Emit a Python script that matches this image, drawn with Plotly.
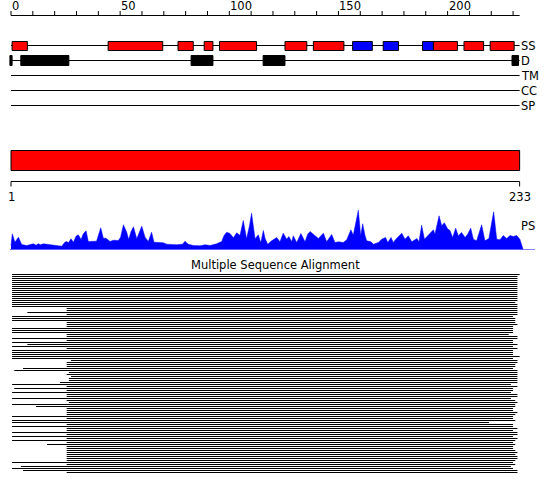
import plotly.graph_objects as go

# ------------------------------------------------------------------ data
seq_len = 233
ruler_ticks = list(range(0, 231, 10))
ruler_labels = [0, 50, 100, 150, 200]

track_names = ["SS", "D", "TM", "CC", "SP"]

# secondary structure: H = helix (red), E = strand (blue)
ss_type = ["H", "H", "H", "H", "H", "H", "H", "E", "E", "E", "H", "H", "H"]
ss_start = [1, 45, 77, 89, 96, 126, 139, 157, 171, 189, 194, 208, 220]
ss_end = [7, 69, 83, 92, 112, 135, 152, 165, 177, 193, 204, 216, 230]

# disorder segments
dis_start = [0, 5, 83, 116, 230]
dis_end = [0, 26, 92, 125, 232]

# domain
domain_start = [1]
domain_end = [233]

# PS profile (residue position, score)
ps_pos = [0, 0.6, 1.8, 3.4, 4.9, 7.2, 10.2, 11.5, 12.5, 13.6,
          14.8, 16.3, 17.9, 20.1, 23.2, 24.7, 25.5, 26.3, 27.5, 28.6,
          29.8, 30.8, 32.1, 33.1, 34.4, 35.4, 39.2, 41.1, 42.3, 43.5,
          45.4, 46.9, 49.2, 50.2, 51.5, 53.0, 53.9, 55.0, 56.1, 57.6,
          58.8, 59.9, 61.4, 62.9, 64.4, 65.5, 69.8, 71.3, 75.9, 78.6,
          79.7, 81.2, 83.5, 86.6, 88.9, 91.2, 94.2, 96.5, 97.6, 98.8,
          100.3, 101.9, 103.4, 104.9, 106.4, 107.9, 109.2, 110.2, 111.8, 113.3,
          114.4, 115.6, 116.4, 117.6, 119.4, 121.7, 123.2, 124.7, 126.3, 127.3,
          128.6, 129.3, 130.9, 132.8, 134.7, 135.9, 137.0, 139.2, 140.8, 143.1,
          144.6, 146.9, 148.4, 150.0, 152.2, 153.8, 155.7, 156.8, 157.9, 159.1,
          160.2, 161.1, 162.2, 162.9, 164.9, 166.0, 168.3, 169.8, 171.6, 172.6,
          174.1, 175.1, 176.6, 179.0, 180.5, 182.0, 183.6, 185.9, 186.9, 188.1,
          189.4, 191.2, 193.5, 194.2, 196.1, 197.3, 198.5, 200.0, 201.1, 202.3,
          203.7, 204.9, 206.4, 208.0, 209.2, 210.6, 211.8, 213.3, 215.6, 217.1,
          218.9, 221.1, 222.5, 224.0, 225.5, 227.1, 228.6, 230.1, 231.6, 233.1,
          234.2, 234.6]
ps_val = [4, 15.7, 7.3, 12.3, 5, 4, 5.7, 4.3, 5.7, 4.7,
          5.7, 5.3, 4.3, 4.3, 3.3, 7.3, 8, 6.7, 10.7, 7.3,
          13.3, 14.7, 10, 15.7, 18.7, 8, 8.3, 21.7, 11.3, 11.3,
          8, 9.3, 9, 12.3, 24.7, 17.3, 10, 18, 22.7, 10.7,
          17.3, 23.3, 12.3, 8, 17.3, 7.3, 6.7, 5.3, 4.7, 5.3,
          8.3, 5.3, 4, 3.7, 4.7, 4, 5.7, 8, 14, 17.3,
          16, 11.7, 16.7, 14, 29, 10.7, 23.3, 36.3, 10.7, 14.7,
          6.7, 19, 11, 5.3, 8.7, 12, 7.7, 16.3, 10.3, 13,
          7.7, 13.7, 7, 16, 7.7, 15.3, 18, 14.3, 11, 16.3,
          7.7, 15, 7, 7.7, 7, 9.7, 19.7, 14.3, 27.3, 39.3,
          13.7, 25.7, 13.7, 8.7, 7.7, 5.3, 7, 10.3, 12, 7,
          12, 7, 11, 16.3, 10.3, 13.7, 7.7, 11, 7.7, 24.3,
          10.3, 14.3, 19.7, 15.3, 33.7, 23.7, 26.7, 20.7, 19, 12,
          21.3, 13.7, 17, 12, 15.3, 21.3, 10.3, 8.7, 24.7, 8.7,
          11, 37.7, 10.3, 9.7, 14, 11, 14, 13, 14, 10.3,
          2, 0]

# multiple sequence alignment: first / last aligned residue of each hit
msa_start = [1, 1, 1, 1, 1, 1, 1, 1, 1, 1,
             1, 1, 1, 1, 1, 1, 1, 26, 26, 8,
             26, 1, 1, 1, 26, 26, 26, 1, 1, 1,
             26, 26, 1, 26, 1, 8, 1, 26, 1, 1,
             1, 1, 1, 28, 26, 26, 26, 6, 2, 27,
             26, 28, 27, 27, 23, 1, 26, 2, 26, 1,
             26, 26, 1, 26, 27, 1, 12, 26, 26, 26,
             26, 1, 26, 1, 1, 26, 1, 26, 26, 1,
             26, 1, 26, 1, 26, 17, 26, 26, 26, 26,
             26, 26, 26, 26, 1, 26, 5, 1, 6, 26]
msa_end = [233, 232, 232, 232, 232, 232, 232, 232, 232, 232,
           232, 232, 232, 232, 231, 232, 232, 232, 232, 232,
           232, 230, 231, 231, 231, 232, 230, 230, 230, 230,
           228, 232, 232, 230, 230, 232, 230, 232, 230, 230,
           230, 233, 230, 232, 232, 231, 231, 230, 232, 232,
           232, 232, 232, 232, 232, 229, 232, 230, 230, 229,
           232, 232, 229, 231, 232, 231, 231, 230, 230, 232,
           231, 230, 230, 231, 219, 230, 230, 232, 230, 232,
           232, 230, 232, 231, 230, 231, 230, 230, 231, 232,
           231, 232, 232, 231, 230, 231, 229, 230, 232, 232]

# ------------------------------------------------------------------ layout constants
W, H = 550, 495
X0_PX, PX_PER_RES = 11.0, 2.183
FONT = dict(family="DejaVu Sans", size=11.5, color="black")
BLACK = "#000000"
RED = "#ff0000"
BLUE = "#0000ff"

RULER_Y = 15.5
TRACK_Y0, TRACK_STEP = 45.5, 15
BAR_Y0, BAR_Y1 = 150.5, 170.5
AXIS_Y = 181.5
PS_BASE_PX, PS_TOP_PX = 249.5, 199.5
MSA_TITLE_Y = 265
MSA_Y0, MSA_STEP = 274.5, 2

shapes, annotations = [], []


def hline(x0, x1, y, color=BLACK, yref="y"):
    shapes.append(dict(type="line", xref="x", yref=yref, x0=x0, x1=x1, y0=y, y1=y,
                       line=dict(color=color, width=1), layer="above"))


def text(x, y, s, anchor="left", xref="x"):
    annotations.append(dict(x=x, y=y, xref=xref, yref="y", text=s, showarrow=False,
                            xanchor=anchor, yanchor="middle", font=FONT, borderpad=0))


# ruler
hline(0, seq_len, RULER_Y)
for t in ruler_ticks:
    shapes.append(dict(type="line", xref="x", yref="y", x0=t, x1=t, y0=RULER_Y - 4.5, y1=RULER_Y,
                       line=dict(color=BLACK, width=1)))
for t in ruler_labels:
    text(t, 6, str(t))

# tracks
for k, name in enumerate(track_names):
    y = TRACK_Y0 + k * TRACK_STEP
    hline(0, seq_len, y)
    text(seq_len, y, name)

ss_y = TRACK_Y0
for typ, s, e in zip(ss_type, ss_start, ss_end):
    shapes.append(dict(type="rect", xref="x", yref="y", x0=s - 0.5, x1=e + 0.5,
                       y0=ss_y - 4, y1=ss_y + 5,
                       fillcolor=RED if typ == "H" else BLUE, line=dict(color=BLACK, width=1)))

d_y = TRACK_Y0 + TRACK_STEP
for s, e in zip(dis_start, dis_end):
    shapes.append(dict(type="rect", xref="x", yref="y", x0=s - 0.5, x1=e + 0.5,
                       y0=d_y - 5, y1=d_y + 5,
                       fillcolor=BLACK, line=dict(color=BLACK, width=1)))

# domain bar + axis
for s, e in zip(domain_start, domain_end):
    shapes.append(dict(type="rect", xref="x", yref="y", x0=s - 1, x1=e, y0=BAR_Y0, y1=BAR_Y1,
                       fillcolor=RED, line=dict(color=BLACK, width=1)))
    hline(s - 1, e, AXIS_Y)
    for xv, lab in ((s - 1, s), (e, e)):
        shapes.append(dict(type="line", xref="x", yref="y", x0=xv, x1=xv, y0=AXIS_Y, y1=AXIS_Y + 5,
                           line=dict(color=BLACK, width=1)))
        text(xv, AXIS_Y + 15, str(lab), anchor="center")

# PS profile
fig = go.Figure()
fig.add_trace(go.Scatter(x=ps_pos, y=ps_val, mode="lines", fill="tozeroy",
                         line=dict(color=BLUE, width=0.5), fillcolor=BLUE,
                         yaxis="y2", hoverinfo="skip", showlegend=False))
shapes.append(dict(type="line", xref="x", yref="y2", x0=-0.5, x1=240, y0=0, y1=0,
                   line=dict(color=BLUE, width=1)))
text(seq_len, 226, "PS")

# MSA
text(0.5, MSA_TITLE_Y, "Multiple Sequence Alignment", anchor="center", xref="paper")
mx, my = [], []
for i, (s, e) in enumerate(zip(msa_start, msa_end)):
    y = MSA_Y0 + i * MSA_STEP
    mx += [s - 0.5, e, None]
    my += [y, y, None]
fig.add_trace(go.Scatter(x=mx, y=my, mode="lines", line=dict(color=BLACK, width=1),
                         hoverinfo="skip", showlegend=False))

x_lo = -X0_PX / PX_PER_RES
x_hi = (W - X0_PX) / PX_PER_RES
fig.update_layout(
    width=W, height=H, autosize=False,
    margin=dict(l=0, r=0, t=0, b=0, pad=0),
    paper_bgcolor="white", plot_bgcolor="white",
    xaxis=dict(range=[x_lo, x_hi], visible=False, fixedrange=True),
    yaxis=dict(range=[H, 0], visible=False, fixedrange=True, domain=[0, 1]),
    yaxis2=dict(range=[0, PS_BASE_PX - PS_TOP_PX], visible=False, fixedrange=True, anchor="x",
                domain=[(H - PS_BASE_PX) / H, (H - PS_TOP_PX) / H]),
    shapes=shapes, annotations=annotations, showlegend=False,
)

fig.write_html("out.html", config={"displayModeBar": False, "staticPlot": True},
               post_script="document.body.style.margin='0';")
